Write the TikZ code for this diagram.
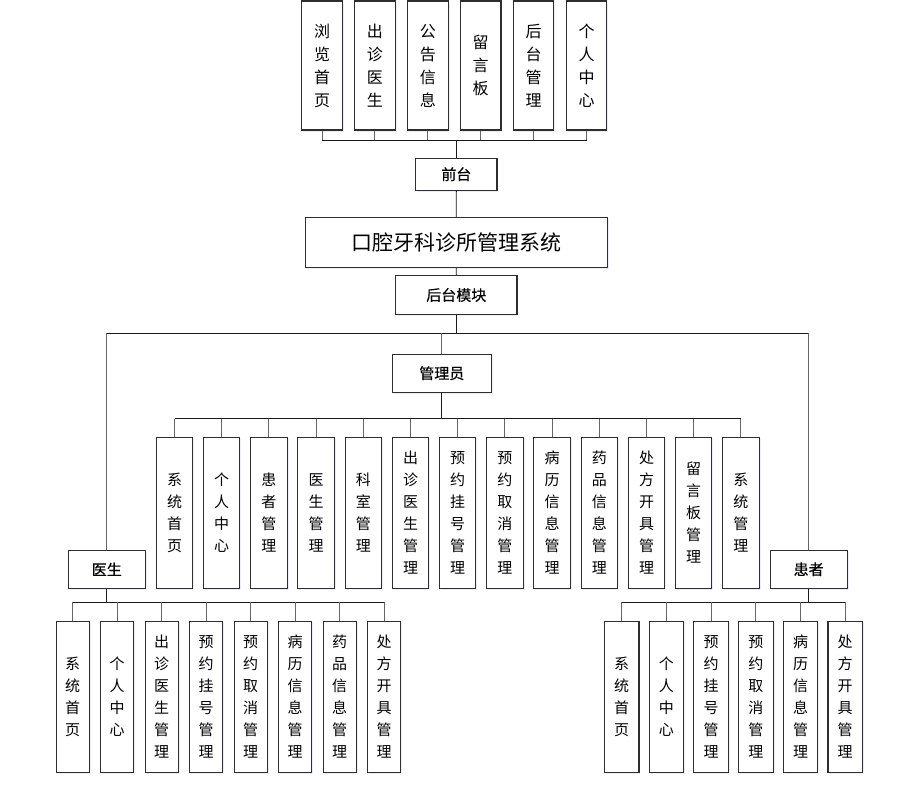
\documentclass[tikz,border=0pt]{standalone}
\usepackage{fontspec}
\newfontfamily\cjk{Noto Sans CJK SC}
\newfontfamily\cjkh[FakeBold=0.4]{Noto Sans CJK SC}
\usetikzlibrary{shadows}
\begin{document}
\begin{tikzpicture}[x=1pt,y=-1pt,
  box/.style={draw=black!82, line width=1.1pt, fill=white, inner sep=0pt, align=center,
    drop shadow={shadow xshift=1.5pt, shadow yshift=-1.5pt, fill=blue!12!white, opacity=0.6}},
  vtext/.style={box, font=\cjk\fontsize{15}{22}\selectfont},
  toptext/.style={box, font=\cjk\fontsize{16}{23}\selectfont},
  head/.style={box, font=\cjkh\fontsize{15}{18}\selectfont},
  bus/.style={draw=black!90, line width=0.9pt},
  drop/.style={draw=black!60, line width=0.9pt}]
\useasboundingbox (0,0) rectangle (900,785);

% top row
\foreach \i/\t in {0/{浏\\览\\首\\页},1/{出\\诊\\医\\生},2/{公\\告\\信\\息},3/{留\\言\\板},4/{后\\台\\管\\理},5/{个\\人\\中\\心}}
  \node[toptext, minimum width=40.5, minimum height=129] (t\i) at ({322+52.9*\i},65.5) {\t};

\node[head, minimum width=81.3, minimum height=31.7] (front) at (456.3,174.2) {前台};
\node[box, font=\cjk\fontsize{21}{24}\selectfont, minimum width=302.3, minimum height=50] (sys) at (456.2,242.3) {口腔牙科诊所管理系统};
\node[head, minimum width=121.3, minimum height=38.6] (back) at (456.3,295) {后台模块};
\node[head, minimum width=99, minimum height=38.3] (admin) at (441.8,373.2) {管理员};
\node[head, minimum width=77, minimum height=38] (doc) at (106.8,569.3) {医生};
\node[head, minimum width=77.3, minimum height=38] (pat) at (808.7,569.3) {患者};

% admin children
\foreach \i/\t in {0/{系\\统\\首\\页},1/{个\\人\\中\\心},2/{患\\者\\管\\理},3/{医\\生\\管\\理},4/{科\\室\\管\\理},5/{出\\诊\\医\\生\\管\\理},6/{预\\约\\挂\\号\\管\\理},7/{预\\约\\取\\消\\管\\理},8/{病\\历\\信\\息\\管\\理},9/{药\\品\\信\\息\\管\\理},10/{处\\方\\开\\具\\管\\理},11/{留\\言\\板\\管\\理},12/{系\\统\\管\\理}}
  \node[vtext, minimum width=36.4, minimum height=151] (a\i) at ({174.5+47.2*\i},512.8) {\t};

% doctor children
\foreach \i/\t in {0/{系\\统\\首\\页},1/{个\\人\\中\\心},2/{出\\诊\\医\\生\\管\\理},3/{预\\约\\挂\\号\\管\\理},4/{预\\约\\取\\消\\管\\理},5/{病\\历\\信\\息\\管\\理},6/{药\\品\\信\\息\\管\\理},7/{处\\方\\开\\具\\管\\理}}
  \node[vtext, minimum width=33.3, minimum height=151.3] (d\i) at ({72.7+44.5*\i},696.7) {\t};

% patient children
\foreach \i/\t in {0/{系\\统\\首\\页},1/{个\\人\\中\\心},2/{预\\约\\挂\\号\\管\\理},3/{预\\约\\取\\消\\管\\理},4/{病\\历\\信\\息\\管\\理},5/{处\\方\\开\\具\\管\\理}}
  \node[vtext, minimum width=34.5, minimum height=151.3] (p\i) at ({621.7+44.7*\i},696.7) {\t};

% bus coordinates
\coordinate (tbus) at (456.3,140);
\coordinate (mbus) at (456.3,333.3);
\coordinate (abus) at (441.8,418.7);
\coordinate (dbus) at (106.8,602.3);
\coordinate (pbus) at (808.7,602.3);

% top connectors
\foreach \i in {0,...,5} \draw[drop] (t\i.south) -- (t\i.south |- tbus);
\draw[bus] (t0.south |- tbus) -- (t5.south |- tbus);
\draw[bus] (tbus) -- (front.north);
\draw[bus] (front.south) -- (sys.north);
\draw[bus] (sys.south) -- (back.north);
\draw[bus] (back.south) -- (mbus);
\draw[bus] (doc.north |- mbus) -- (pat.north |- mbus);
\draw[drop] (doc.north |- mbus) -- (doc.north);
\draw[drop] (pat.north |- mbus) -- (pat.north);
\draw[drop] (admin.north |- mbus) -- (admin.north);

% admin connectors
\draw[bus] (admin.south) -- (abus);
\draw[bus] (a0.north |- abus) -- (a12.north |- abus);
\foreach \i in {0,...,12} \draw[drop] (a\i.north |- abus) -- (a\i.north);

% doctor connectors
\draw[bus] (doc.south) -- (dbus);
\draw[bus] (d0.north |- dbus) -- (d7.north |- dbus);
\foreach \i in {0,...,7} \draw[drop] (d\i.north |- dbus) -- (d\i.north);

% patient connectors
\draw[bus] (pat.south) -- (pbus);
\draw[bus] (p0.north |- pbus) -- (p5.north |- pbus);
\foreach \i in {0,...,5} \draw[drop] (p\i.north |- pbus) -- (p\i.north);
\end{tikzpicture}
\end{document}
